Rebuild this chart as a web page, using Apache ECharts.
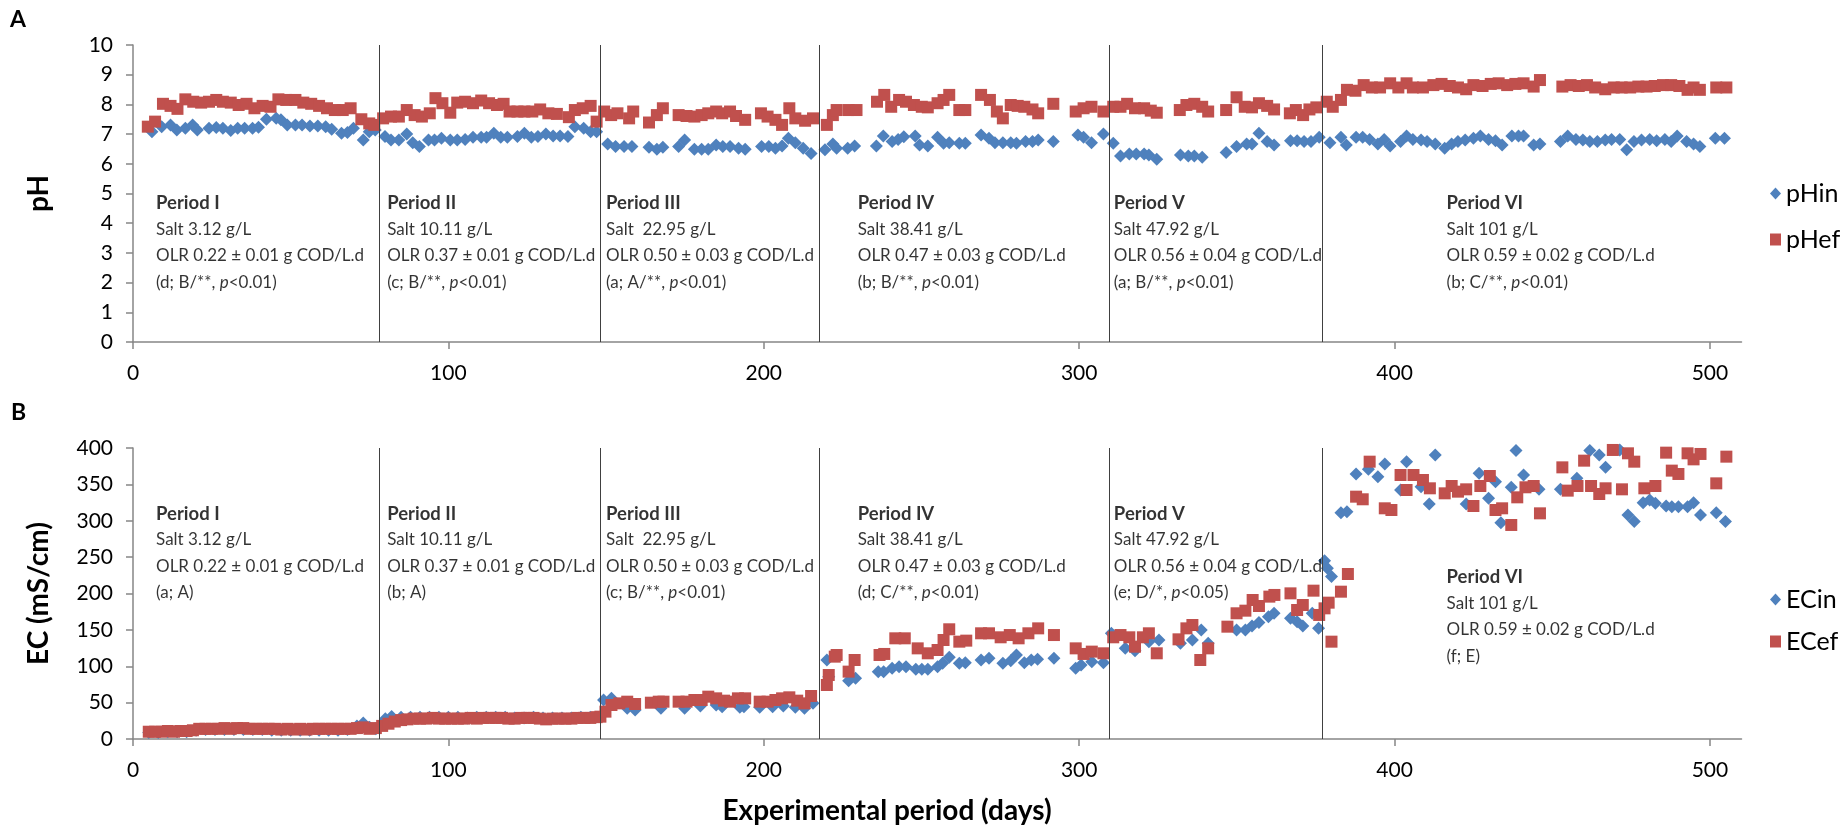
<!DOCTYPE html>
<html>
<head>
<meta charset="utf-8">
<script src="https://cdn.jsdelivr.net/npm/echarts@6/dist/echarts.min.js"></script>
<style>
html,body{margin:0;padding:0;background:#fff;}
#chart{width:1843px;height:825px;}
</style>
</head>
<body>
<div id="chart"></div>
<script>
// ---------------- DATA ----------------
const xTicks = [0, 100, 200, 300, 400, 500];
const phTicks = [0,1,2,3,4,5,6,7,8,9,10];
const ecTicks = [0,50,100,150,200,250,300,350,400];
const periodBoundaries = [78, 148, 217.5, 309.5, 377];

const periodNames = ['Period I','Period II','Period III','Period IV','Period V','Period VI'];
const salts = ['Salt 3.12 g/L','Salt 10.11 g/L','Salt  22.95 g/L','Salt 38.41 g/L','Salt 47.92 g/L','Salt 101 g/L'];
const olrs = ['OLR 0.22 \u00b1 0.01 g COD/L.d','OLR 0.37 \u00b1 0.01 g COD/L.d','OLR 0.50 \u00b1 0.03 g COD/L.d',
              'OLR 0.47 \u00b1 0.03 g COD/L.d','OLR 0.56 \u00b1 0.04 g COD/L.d','OLR 0.59 \u00b1 0.02 g COD/L.d'];
const statsPH = ['(d; B/**, p<0.01)','(c; B/**, p<0.01)','(a; A/**, p<0.01)','(b; B/**, p<0.01)','(a; B/**, p<0.01)','(b; C/**, p<0.01)'];
const statsEC = ['(a; A)','(b; A)','(c; B/**, p<0.01)','(d; C/**, p<0.01)','(e; D/*, p<0.05)','(f; E)'];

const pHin = [[6.0,7.08],[9.1,7.25],[11.9,7.31],[13.9,7.14],[16.6,7.20],[18.9,7.31],[20.4,7.14],[24.1,7.20],[26.4,7.22],[28.5,7.20],[31.0,7.12],[33.2,7.20],[35.4,7.20],[37.9,7.20],[39.8,7.23],[42.3,7.50],[45.4,7.53],[46.9,7.48],[48.9,7.31],[51.5,7.31],[53.6,7.31],[56.1,7.27],[58.6,7.27],[61.1,7.25],[63.0,7.16],[66.1,7.03],[68.0,7.05],[69.9,7.20],[73.0,6.80],[74.9,7.08],[76.8,7.14],[79.9,6.92],[81.8,6.80],[84.3,6.80],[86.8,7.00],[88.7,6.71],[90.8,6.58],[93.7,6.80],[95.6,6.80],[97.8,6.86],[100.6,6.80],[102.8,6.80],[105.3,6.82],[107.8,6.89],[110.4,6.89],[112.1,6.89],[114.4,7.03],[116.6,6.89],[118.7,6.89],[121.9,6.92],[124.1,7.03],[126.3,6.89],[128.4,6.92],[130.9,7.00],[133.2,6.94],[135.4,6.94],[137.9,6.92],[140.1,7.25],[142.9,7.20],[145.1,7.08],[147.0,7.08],
[150.5,6.67],[153.0,6.58],[155.7,6.58],[158.2,6.58],[163.6,6.56],[166.1,6.49],[168.0,6.56],[173.0,6.58],[174.9,6.80],[178.0,6.49],[180.3,6.49],[182.4,6.49],[184.9,6.63],[187.0,6.58],[189.3,6.58],[192.0,6.52],[194.1,6.49],[199.3,6.58],[201.6,6.58],[203.7,6.52],[205.8,6.60],[207.8,6.86],[210.0,6.71],[212.5,6.52],[215.0,6.35],[219.4,6.47],[221.9,6.67],[223.1,6.52],[226.6,6.52],[228.8,6.60],[235.7,6.60],[237.9,6.94],[240.7,6.75],[242.6,6.82],[244.4,6.91],[248.0,6.94],[249.4,6.63],[252.0,6.60],[255.1,6.89],[257.0,6.69],[258.8,6.71],[262.0,6.69],[263.9,6.69],[268.9,6.97],[271.4,6.86],[273.3,6.71],[275.8,6.71],[278.3,6.71],[280.1,6.69],[283.0,6.75],[285.2,6.75],[287.0,6.80],[291.8,6.75],[299.6,6.97],[301.4,6.89],[303.9,6.71],[307.7,7.00],[310.8,6.69],[313.1,6.26],[315.9,6.33],[318.1,6.33],[320.6,6.33],[322.1,6.30],[324.6,6.15],[332.1,6.30],[334.6,6.26],[336.5,6.26],[339.0,6.22],
[346.6,6.38],[349.9,6.58],[353.1,6.67],[354.8,6.67],[357.0,7.03],[359.6,6.75],[361.8,6.63],[367.0,6.78],[369.1,6.78],[371.3,6.75],[373.5,6.75],[376.1,6.89],[379.5,6.71],[383.0,6.89],[384.7,6.63],[387.8,6.89],[389.9,6.89],[392.1,6.82],[394.7,6.67],[396.7,6.82],[398.6,6.60],[401.9,6.75],[403.8,6.94],[405.8,6.82],[408.4,6.80],[410.3,6.75],[412.9,6.67],[415.9,6.52],[418.1,6.67],[420.1,6.75],[422.4,6.80],[425.0,6.86],[427.2,6.94],[429.8,6.82],[432.0,6.78],[434.1,6.63],[437.2,6.94],[439.3,6.94],[440.9,6.94],[444.1,6.63],[446.1,6.67],[452.6,6.75],[454.9,6.94],[457.5,6.82],[459.7,6.80],[461.9,6.75],[464.3,6.75],[466.8,6.80],[468.8,6.82],[471.4,6.82],[473.6,6.47],[475.9,6.75],[478.3,6.80],[480.9,6.82],[483.1,6.78],[485.7,6.82],[487.7,6.75],[489.6,6.94],[492.6,6.75],[494.8,6.67],[496.8,6.58],[501.7,6.86],[504.6,6.86]];

const pHef = [[4.7,7.25],[7.0,7.42],[9.5,8.02],[11.9,7.95],[14.1,7.85],[16.6,8.17],[19.1,8.09],[21.6,8.06],[24.1,8.09],[26.4,8.15],[28.5,8.09],[31.0,8.06],[33.5,7.98],[36.0,8.02],[38.5,7.87],[41.1,7.95],[43.6,7.92],[46.1,8.17],[48.6,8.15],[51.5,8.15],[54.0,8.06],[56.5,8.02],[59.0,7.95],[61.5,7.87],[64.0,7.81],[66.5,7.81],[69.0,7.87],[72.4,7.50],[74.9,7.36],[76.5,7.31],[79.3,7.53],[81.8,7.59],[84.3,7.59],[86.8,7.81],[89.3,7.64],[91.6,7.59],[94.1,7.70],[95.9,8.21],[98.1,8.04],[100.6,7.72],[102.8,8.06],[105.3,8.09],[107.8,8.04],[110.4,8.13],[112.9,8.04],[115.4,7.98],[117.5,8.02],[119.4,7.76],[121.9,7.76],[124.1,7.76],[126.6,7.76],[129.1,7.83],[131.7,7.70],[134.4,7.68],[138.2,7.57],[140.1,7.81],[142.6,7.87],[145.1,7.95],[147.0,7.42],
[149.4,7.76],[151.6,7.64],[153.6,7.70],[157.3,7.53],[158.6,7.76],[163.6,7.39],[166.1,7.64],[168.0,7.87],[173.0,7.64],[175.5,7.61],[178.0,7.59],[180.3,7.64],[182.4,7.70],[184.9,7.76],[186.8,7.70],[189.3,7.76],[191.2,7.61],[194.1,7.48],[199.1,7.70],[201.2,7.59],[203.7,7.48],[205.8,7.31],[208.1,7.87],[210.0,7.53],[213.1,7.45],[215.6,7.53],[220.0,7.31],[221.9,7.64],[223.1,7.81],[226.9,7.81],[229.4,7.81],[235.9,8.09],[238.2,8.32],[240.4,7.92],[242.9,8.15],[245.1,8.09],[247.6,7.98],[250.1,7.92],[252.0,7.90],[255.1,8.04],[257.0,8.15],[258.8,8.32],[262.0,7.81],[263.9,7.81],[268.9,8.32],[271.7,8.15],[273.9,7.76],[275.8,7.53],[278.3,7.98],[280.5,7.95],[282.6,7.92],[285.2,7.83],[287.0,7.70],[291.8,8.02],[298.9,7.76],[301.4,7.87],[303.9,7.92],[307.7,7.76],[310.8,7.92],[313.1,7.92],[315.2,8.02],[317.7,7.87],[320.6,7.87],[322.7,7.79],[324.6,7.72],[331.9,7.81],[334.0,7.98],[336.5,8.02],[339.0,7.92],[340.9,7.76],
[346.6,7.81],[349.9,8.24],[352.5,7.92],[354.8,7.90],[357.0,8.04],[359.6,7.95],[361.8,7.83],[366.8,7.70],[368.7,7.81],[371.0,7.64],[373.0,7.83],[375.2,7.90],[378.5,8.09],[380.4,7.92],[383.0,8.15],[384.9,8.49],[387.6,8.46],[390.2,8.65],[392.8,8.57],[395.4,8.57],[398.6,8.71],[401.2,8.57],[403.8,8.71],[405.8,8.57],[409.0,8.57],[412.3,8.65],[414.9,8.69],[417.5,8.62],[420.1,8.57],[422.7,8.51],[425.0,8.65],[427.9,8.62],[430.5,8.69],[433.0,8.71],[435.7,8.65],[438.3,8.69],[440.9,8.71],[444.1,8.60],[446.1,8.82],[453.2,8.60],[455.8,8.65],[458.4,8.62],[461.0,8.65],[463.6,8.57],[466.8,8.51],[469.5,8.57],[472.0,8.57],[474.7,8.57],[477.3,8.60],[479.9,8.60],[482.5,8.62],[485.1,8.65],[487.7,8.65],[490.3,8.62],[492.9,8.49],[494.8,8.57],[496.8,8.49],[502.0,8.57],[505.2,8.57]];

const ECin = [[5,9],[8,9],[11,10],[14,10],[17,10],[20,12],[23,13],[26,13],[29,13],[32,13],[35,13],[38,13],[41,13],[44,12],[47,12],[50,12],[53,12],[56,12],[59,12],[62,12],[65,12],[68,13],[71,18],[73,22],[75,16],[77,14],
[80,28],[82,31],[85,30],[88,30],[91,30],[94,30],[97,30],[100,30],[103,30],[106,29],[109,30],[112,30],[115,30],[118,30],[121,29],[124,29],[127,30],[130,29],[133,29],[136,29],[139,29],[142,30],[145,30],
[149.2,53.6],[151.7,55.9],[156.7,42.2],[159.2,39.9],[167.4,42.2],[174.9,42.2],[179.9,45.4],[184.9,46.7],[186.8,44.5],[192.4,43.5],[193.7,44.5],[198.7,43.5],[202.8,44.5],[206.2,45.4],[210.0,43.5],[212.9,42.2],[215.6,49.0],
[220.0,108.6],[220.6,85.7],[226.9,80.2],[229.1,83.4],[236.3,92.6],[238.0,92.6],[240.7,97.2],[242.9,99.4],[245.1,99.4],[248.2,95.8],[250.1,95.8],[252.0,95.8],[255.1,99.4],[256.7,104.0],[258.8,112.3],[262.0,104.0],[263.9,104.9],[268.9,108.6],[271.4,110.9],[275.8,104.0],[278.3,107.7],[280.1,115.5],[282.6,104.9],[284.8,108.6],[286.8,109.5],[292.0,110.9],[298.9,97.2],[300.6,101.7],[304.0,106.3],[307.7,104.9],
[310.2,145.3],[314.6,124.6],[317.7,121.4],[322.1,133.8],[325.3,136.1],[332.1,131.5],[335.9,136.1],[338.7,149.8],[340.9,131.5],[349.9,149.8],[352.7,149.8],[354.8,155.3],[357.0,160.0],[360.0,168.2],[361.8,172.8],[367.0,165.9],[369.1,161.3],[370.9,155.3],[373.9,172.8],[375.9,152.1],[377.8,245.1],[378.7,234.6],[380.0,223.2],
[383.0,311.1],[384.9,312.5],[387.8,364.3],[391.7,370.7],[394.7,360.6],[396.9,378.0],[401.9,342.3],[403.8,381.2],[408.4,346.9],[411.0,323.0],[412.9,390.4],[422.7,323.0],[426.8,365.2],[429.8,330.8],[432.0,353.7],[433.7,297.4],[437.0,346.0],[438.5,396.4],[440.9,362.9],[445.8,343.2],[452.6,343.2],[457.8,358.3],[461.9,396.4],[464.9,390.4],[466.9,373.4],[471.4,397.3],[474.0,307.9],[476.0,298.8],[478.8,324.9],[480.9,328.5],[482.7,324.0],[486.1,320.3],[487.9,319.4],[490.0,319.4],[492.9,319.4],[494.8,324.9],[497.0,307.9],[502.0,311.1],[504.9,298.8]];

const ECef = [[5,10],[7,10],[9,10],[11,11],[13,10],[15,11],[17,11],[19,12],[21,14],[23,14],[25,14],[27,14],[29,15],[31,14],[33,15],[35,15],[37,14],[39,14],[41,14],[43,14],[45,14],[47,13],[49,14],[51,13],[53,14],[55,13],[57,14],[59,14],[61,14],[63,14],[65,14],[67,14],[69,14],[71,15],[73,16],[75,14],[77,15],
[79,18],[81,21],[83,24],[85,26],[87,27],[89,28],[91,28],[93,28],[95,29],[97,28],[99,28],[101,28],[103,28],[105,28],[107,29],[109,28],[111,29],[113,29],[115,29],[117,29],[119,28],[121,28],[123,29],[125,29],[127,29],[129,28],[131,27],[133,28],[135,28],[137,28],[139,28],[141,29],[143,29],[145,29],[147,30],
[148.2,30.7],[149.8,37.6],[151.7,46.7],[154.2,49.0],[156.7,51.3],[159.2,48.1],[164.2,49.9],[166.7,51.3],[168.2,51.3],[173.0,51.3],[175.5,51.3],[178.0,53.6],[180.3,53.6],[182.4,58.2],[184.9,55.9],[187.4,52.7],[189.3,51.3],[191.8,55.9],[194.1,55.9],[198.7,51.3],[201.2,51.3],[203.7,53.6],[205.8,55.9],[208.1,57.3],[210.6,52.7],[212.9,49.0],[215.0,59.1],
[220.0,74.2],[220.6,88.0],[222.5,113.2],[223.1,115.5],[226.9,92.6],[228.8,108.6],[236.7,115.5],[238.2,116.9],[241.7,138.4],[244.7,138.4],[248.8,124.6],[252.0,117.8],[255.1,122.3],[257.0,136.1],[258.8,150.8],[262.0,133.8],[264.2,135.2],[268.9,145.3],[271.4,145.3],[275.1,139.8],[278.0,142.9],[280.8,138.4],[283.9,145.3],[287.0,152.1],[292.0,142.9],[298.9,124.6],[301.4,116.9],[304.0,120.1],[307.7,117.8],
[310.8,139.8],[313.1,142.9],[315.9,139.8],[317.7,126.9],[320.2,139.8],[322.1,145.3],[324.6,117.8],[331.5,137.0],[334.0,152.1],[335.9,156.7],[338.4,108.6],[340.9,124.6],[347.0,154.4],[349.9,172.8],[352.7,176.4],[355.0,191.1],[357.0,182.8],[360.3,195.7],[361.9,198.0],[367.0,200.2],[369.1,177.3],[370.9,184.2],[374.3,203.9],[376.1,170.5],[377.8,179.6],[379.1,187.4],[380.0,133.8],[383.0,202.5],[385.2,226.8],
[387.8,333.1],[389.9,329.5],[392.1,381.2],[396.9,317.1],[399.0,314.8],[401.9,362.9],[403.8,342.3],[406.0,362.9],[409.0,356.0],[411.2,344.6],[415.9,337.7],[418.1,347.8],[420.1,340.0],[422.7,343.2],[425.0,320.3],[427.2,347.8],[430.2,361.5],[432.0,314.8],[434.1,317.1],[437.0,294.2],[438.9,332.2],[441.5,346.0],[444.1,347.8],[446.1,310.2],[453.2,373.4],[454.9,341.4],[458.0,347.8],[460.1,382.6],[462.3,347.8],[464.9,336.8],[466.9,344.6],[469.2,397.3],[472.1,343.2],[474.0,392.7],[476.0,381.2],[479.2,344.6],[482.7,347.8],[486.1,393.6],[487.9,368.9],[490.0,364.3],[492.9,392.7],[494.8,384.4],[497.0,391.8],[502.0,351.4],[505.2,388.1]];

// ---------------- LAYOUT ----------------
const FONT = 'Lato, "Liberation Sans", sans-serif';
const BLUE = '#4F81BD', RED = '#C0504D', AXIS = '#868686';
const textDays = [7.3, 80.6, 150.0, 229.8, 311.0, 416.5];
const textTopPH = [5.13, 5.13, 5.13, 5.13, 5.13, 5.13];
const textTopEC = [328, 328, 328, 328, 328, 241];

function richLabel(i, stats) {
  const s = stats[i];
  let last;
  if (s.indexOf('p<') >= 0) {
    const parts = s.split('p<');
    last = '{n|' + parts[0] + '}{i|p}{n|<' + parts[1] + '}';
  } else {
    last = '{n|' + s + '}';
  }
  return '{b|' + periodNames[i] + '}\n{n|' + salts[i] + '}\n{n|' + olrs[i] + '}\n' + last;
}
const rich = {
  b: {fontFamily: FONT, fontSize: 18.5, fontWeight: 'bold', color: '#000', lineHeight: 26.4},
  n: {fontFamily: FONT, fontSize: 17, color: '#000', lineHeight: 26.4},
  i: {fontFamily: FONT, fontSize: 17, fontStyle: 'italic', color: '#000', lineHeight: 26.4}
};
function textSeries(xi, yi, ys, stats) {
  return {
    type: 'scatter', xAxisIndex: xi, yAxisIndex: yi, silent: true, z: 10,
    symbolSize: 0, itemStyle: {color: 'rgba(0,0,0,0)'},
    data: textDays.map((d, i) => ({
      value: [d, ys[i]],
      label: {show: true, position: [0, 0], align: 'left', verticalAlign: 'top',
              formatter: richLabel(i, stats), rich: rich}
    }))
  };
}
function xAxisDef(gi) {
  return {
    type: 'value', gridIndex: gi, min: 0, max: 510, interval: 100,
    axisLine: {show: true, lineStyle: {color: AXIS, width: 1.5}},
    axisTick: {show: true, length: 7, lineStyle: {color: AXIS, width: 1.5}, customValues: xTicks},
    axisLabel: {fontFamily: FONT, fontSize: 21, color: '#000', margin: 21, customValues: xTicks,
                formatter: v => (xTicks.indexOf(v) >= 0 ? String(v) : '')},
    splitLine: {show: false}
  };
}
function yAxisDef(gi, max, interval, name, gap) {
  return {
    type: 'value', gridIndex: gi, min: 0, max: max, interval: interval,
    name: name, nameLocation: 'middle', nameRotate: 90, nameGap: gap, nameMoveOverlap: false,
    nameTextStyle: {fontFamily: FONT, fontSize: 28, fontWeight: 'bold', color: '#000'},
    axisLine: {show: true, lineStyle: {color: AXIS, width: 1.5}},
    axisTick: {show: true, length: 7, lineStyle: {color: AXIS, width: 1.5}},
    axisLabel: {fontFamily: FONT, fontSize: 21, color: '#000', margin: 20},
    splitLine: {show: false}
  };
}
const markLine = {
  silent: true, symbol: ['none', 'none'], label: {show: false},
  lineStyle: {color: '#404040', width: 1, type: 'solid'},
  data: periodBoundaries.map(d => ({xAxis: d}))
};

const chart = echarts.init(document.getElementById('chart'), null, {renderer: 'canvas'});
chart.setOption({
  animation: false,
  backgroundColor: '#fff',
  grid: [
    {left: 133, right: 101.5, top: 45, height: 297},
    {left: 133, right: 101.5, top: 448, height: 291}
  ],
  xAxis: [xAxisDef(0), xAxisDef(1)],
  yAxis: [yAxisDef(0, 10, 1, 'pH', 80), yAxisDef(1, 400, 50, 'EC (mS/cm)', 80)],
  legend: [
    {data: ['pHin', 'pHef'], orient: 'vertical', left: 1765, top: 176, itemWidth: 11, itemHeight: 12,
     itemGap: 21, itemTextGap: 10, textStyle: {fontFamily: FONT, fontSize: 25, color: '#000'}},
    {data: ['ECin', 'ECef'], orient: 'vertical', left: 1765, top: 582, itemWidth: 11, itemHeight: 12,
     itemGap: 17, itemTextGap: 10, textStyle: {fontFamily: FONT, fontSize: 25, color: '#000'}}
  ],
  graphic: [
    {type: 'text', left: 10, top: 8, style: {text: 'A', font: 'bold 23px ' + FONT, fill: '#000'}},
    {type: 'text', left: 11, top: 401, style: {text: 'B', font: 'bold 23px ' + FONT, fill: '#000'}},
    {type: 'text', x: 887, y: 811, style: {text: 'Experimental period (days)', font: 'bold 28px ' + FONT,
      fill: '#000', align: 'center', verticalAlign: 'middle'}}
  ],
  series: [
    {name: 'pHin', type: 'scatter', xAxisIndex: 0, yAxisIndex: 0, symbol: 'diamond', symbolSize: 13,
     itemStyle: {color: BLUE, opacity: 1}, data: pHin, markLine: markLine},
    {name: 'pHef', type: 'scatter', xAxisIndex: 0, yAxisIndex: 0, symbol: 'rect', symbolSize: 12,
     itemStyle: {color: RED, opacity: 1}, data: pHef},
    {name: 'ECin', type: 'scatter', xAxisIndex: 1, yAxisIndex: 1, symbol: 'diamond', symbolSize: 13,
     itemStyle: {color: BLUE, opacity: 1}, data: ECin, markLine: markLine},
    {name: 'ECef', type: 'scatter', xAxisIndex: 1, yAxisIndex: 1, symbol: 'rect', symbolSize: 12,
     itemStyle: {color: RED, opacity: 1}, data: ECef},
    textSeries(0, 0, textTopPH, statsPH),
    textSeries(1, 1, textTopEC, statsEC)
  ]
});
</script>
</body>
</html>
